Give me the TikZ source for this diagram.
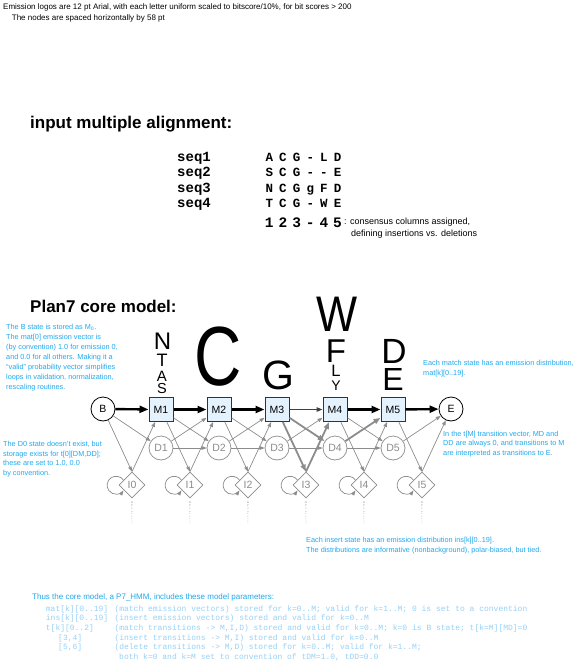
\documentclass[tikz,border=0pt]{standalone}
\usepackage{fontspec}
\setmainfont{Liberation Sans}
\setmonofont{Liberation Mono}
\usepackage{tikz}
\usetikzlibrary{arrows.meta,positioning,shapes.geometric}
\definecolor{note}{RGB}{30,168,238}
\definecolor{pale}{RGB}{150,208,245}
\definecolor{grey}{RGB}{140,140,140}
\definecolor{mfill}{RGB}{228,242,253}
\newcommand{\lblfont}{\fontsize{10.5}{12}\selectfont}
\tikzset{
  mst/.style={rectangle,draw=black!80,line width=1pt,fill=mfill,minimum size=24pt,inner sep=0pt,font=\lblfont},
  dst/.style={circle,draw=grey!90,line width=0.8pt,fill=white,minimum size=24pt,inner sep=0pt,text=grey,font=\lblfont},
  ist/.style={diamond,draw=grey,line width=0.8pt,fill=white,minimum width=26pt,minimum height=26pt,inner sep=0pt,text=grey,font=\lblfont},
  est/.style={circle,draw,line width=0.8pt,fill=white,minimum size=24pt,inner sep=0pt,font=\lblfont},
  big/.style={-{Triangle[length=9pt,width=7pt]},line width=2.4pt},
  mid/.style={-{Triangle[length=6pt,width=4.5pt]},line width=1.2pt,black!75},
  tr/.style={-{Triangle[length=5pt,width=3.6pt]},line width=0.7pt,grey},
  ttr/.style={-{Triangle[length=7pt,width=5pt]},line width=1.8pt,grey},
  logo/.style={anchor=base,inner sep=0pt,font=\fontsize{#1}{#1}\selectfont},
  note/.style={anchor=north west,inner sep=0pt,align=left,text=note,font=\fontsize{7.3}{10}\selectfont},
  code/.style={anchor=base west,inner sep=0pt,text=pale,font=\ttfamily\fontsize{8}{8}\selectfont},
  seq/.style={anchor=base,inner sep=0pt,font=\ttfamily\bfseries\fontsize{#1}{#1}\selectfont},
  head/.style={anchor=base west,inner sep=0pt,font=\bfseries\fontsize{17}{17}\selectfont},
  small/.style={anchor=base west,inner sep=0pt,font=\fontsize{#1}{#1}\selectfont}
}

\begin{document}
\begin{tikzpicture}[x=1pt,y=-1pt]
    \useasboundingbox (0,0) rectangle (588,665);

    % === Header ===
    \node[small=8] (hd1) at (3,9.3) {Emission logos are 12 pt Arial, with each letter uniform scaled to bitscore/10\%, for bit scores > 200};
    \node[small=8] (hd2) at (11.7,20.7) {The nodes are spaced horizontally by 58 pt};

    % === Alignment ===
    \node[head] (ali) at (30,128) {input multiple alignment:};
    \foreach \r/\y/\row in {1/161.5/{A,C,G,-,L,D}, 2/176.8/{S,C,G,-,-,E},
                            3/192/{N,C,G,g,F,D}, 4/207.3/{T,C,G,-,W,E}} {
        \node[seq=14,anchor=base west] (s\r) at (177,\y) {seq\r};
        \foreach \c [count=\j] in \row
            \node[seq=12.5] (a\r\j) at ({269.3+13.65*(\j-1)},\y) {\c};
    }
    \foreach \c [count=\j] in {1,2,3,-,4,5}
        \node[seq=14.5] (col\j) at ({269.3+13.65*(\j-1)},227.5) {\c};
    \node[small=9,anchor=base west] (cons) at (344,224.5) {: consensus columns assigned,};
    \node[small=9,anchor=base west] (cons2) at (351,236) {defining insertions vs. deletions};

    % === Plan7 core model ===
    \node[head] (p7) at (30,312) {Plan7 core model:};

    % emission logos
    \foreach \n/\x/\y/\s/\c in {n/162.5/349.5/24/N, t/162/366.5/18/T, a/162/381/15/A, s/162/393.5/14.5/S,
                               c/218/385/84/\scalebox{0.78}[1]{C}, g/278/389/41/G,
                               w/337.5/331.5/50/\scalebox{0.87}[1]{W}, f/336/362/33/F, l/336/376/16.5/L, y/336/390/14/Y,
                               d/394/363/35/D, e/393/390/32/E}
        \node[logo=\s] (lg\n) at (\x,\y) {\c};

    % states
    \node[est] (b) at (103,409) {B};
    \node[est] (e) at (451,409) {E};
    \foreach \k in {1,...,5} {
        \node[mst] (m\k) at ({103+58*\k},409.5) {M\k};
        \node[dst] (d\k) at ({103+58*\k},448) {D\k};
    }
    \foreach \k in {0,...,5} {
        \node[ist] (i\k) at ({132+58*\k},485) {I\k};
        % tiny insert logo
        \foreach \c/\dy/\s in {G/0/2.8, P/3.6/2.6, S/6.8/2, N/9.4/1.8, E/11.8/1.6, D/14/1.5, K/16.1/1.4, T/18.1/1.3, R/20/1.2}
            \node[logo=\s,text=grey] (q\k\c) at ({132+58*\k},{503+\dy}) {\c};
    }

    % match to match
    \foreach \p/\q in {b/m1,m1/m2,m2/m3,m4/m5,m5/e}
        \draw[big] (\p) -- (\q);
    \draw[mid] (m3) -- (m4);

    % thin transitions
    \draw[tr] (b) -- (d1);
    \draw[tr] (b) -- (i0.north);
    \draw[tr] (i0.north) -- (m1);
    \foreach \k/\n in {1/2,2/3,4/5} {
        \draw[tr] (m\k) -- (d\n);
        \draw[tr] (m\k) -- (i\k.north);
        \draw[tr] (i\k.north) -- (m\n);
    }
    \foreach \k/\n in {1/2,2/3,3/4,4/5}
        \draw[tr] (d\k) -- (d\n);
    \foreach \k/\n in {1/2,2/3,3/4}
        \draw[tr] (d\k) -- (m\n);
    \draw[tr] (m5) -- (i5.north);
    \draw[tr] (i5.north) -- (e);
    \draw[tr] (d5) -- (e);

    % insert and delete used by the alignment
    \draw[ttr] (m3) -- (i3.north);
    \draw[ttr] (i3.north) -- (m4);
    \draw[ttr] (m3) -- (d4);
    \draw[ttr] (d4) -- (m5);

    % insert self loops
    \foreach \k in {0,...,5}
        \draw[tr] (i\k.150) arc[start angle=35,end angle=325,radius=9pt];

    % === Notes ===
    \node[note] (nb) at (6,324) {The B state is stored as M\textsubscript{0}.\\The mat[0] emission vector is\\(by convention) 1.0 for emission 0,\\and 0.0 for all others. Making it a\\``valid'' probability vector simplifies\\loops in validation, normalization,\\rescaling routines.};
    \node[note,font=\fontsize{7.3}{9.4}\selectfont] (nd) at (3,441.5) {The D0 state doesn't exist, but\\storage exists for t[0][DM,DD];\\these are set to 1.0, 0.0\\by convention.};
    \node[note] (nm) at (423,360) {Each match state has an emission distribution,\\mat[k][0..19].};
    \node[note,font=\fontsize{7.3}{9.5}\selectfont] (nt) at (443,431) {In the t[M] transition vector, MD and\\DD are always 0, and transitions to M\\are interpreted as transitions to E.};
    \node[note,font=\fontsize{7.3}{9.4}\selectfont] (ni) at (306,537.5) {Each insert state has an emission distribution ins[k][0..19].\\The distributions are informative (nonbackground), polar-biased, but tied.};

    % === Parameters ===
    \node[note,font=\fontsize{8}{8}\selectfont] (thus) at (32,593) {Thus the core model, a P7\_HMM, includes these model parameters:};
    \foreach \j/\x/\y/\a/\t in {
        1/45.7/611/{mat[k][0..19]}/{(match emission vectors) stored for k=0..M; valid for k=1..M; 0 is set to a convention},
        2/45.7/620.7/{ins[k][0..19]}/{(insert emission vectors) stored and valid for k=0..M},
        3/45.7/630.4/{t[k][0..2]}/{(match transitions -> M,I,D) stored and valid for k=0..M; k=0 is B state; t[k=M][MD]=0},
        4/58/640.1/{[3,4]}/{(insert transitions -> M,I) stored and valid for k=0..M},
        5/58/649.8/{[5,6]}/{(delete transitions -> M,D) stored for k=0..M; valid for k=1..M;}} {
        \node[code] (pa\j) at (\x,\y) {\a};
        \node[code] (pb\j) at (114.3,\y) {\t};
    }
    \node[code] (pb6) at (119,659.5) {both k=0 and k=M set to convention of tDM=1.0, tDD=0.0};

\end{tikzpicture}
\end{document}
